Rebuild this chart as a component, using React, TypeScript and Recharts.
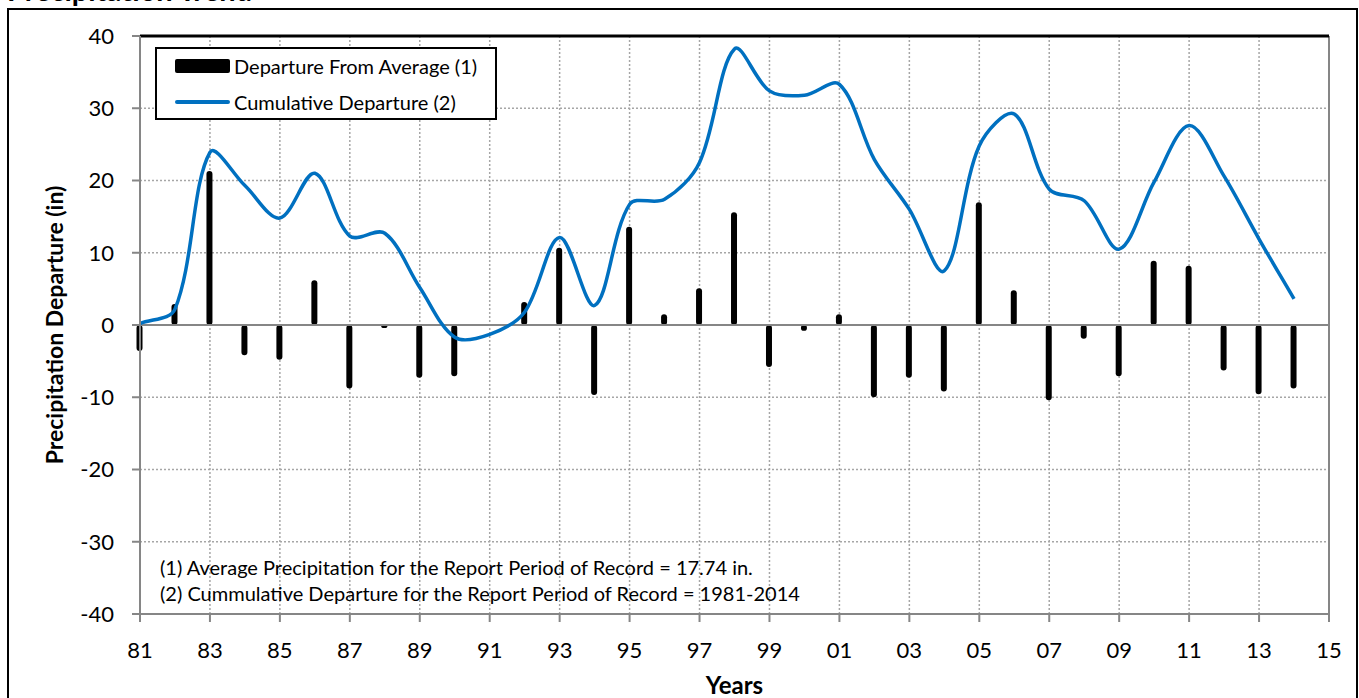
import React from "react";
import {
  ComposedChart,
  Bar,
  Line,
  XAxis,
  YAxis,
  CartesianGrid,
  ReferenceLine,
  Legend,
  Label,
} from "recharts";

// precipitation departure, report period 1981-2014
const years = [
  1981, 1982, 1983, 1984, 1985, 1986, 1987, 1988, 1989, 1990, 1991, 1992,
  1993, 1994, 1995, 1996, 1997, 1998, 1999, 2000, 2001, 2002, 2003, 2004,
  2005, 2006, 2007, 2008, 2009, 2010, 2011, 2012, 2013, 2014,
];
const departure = [
  -3.6, 2.9, 21.3, -4.2, -4.8, 6.2, -8.8, -0.4, -7.3, -7.1, 0, 3.2, 10.7,
  -9.7, 13.6, 1.5, 5.1, 15.6, -5.8, -0.8, 1.5, -10.0, -7.3, -9.2, 17.0, 4.8,
  -10.4, -1.9, -7.1, 8.9, 8.2, -6.3, -9.6, -8.8,
];
const cumulative = [
  0.2, 2.2, 23.9, 19.3, 14.8, 21.0, 12.3, 12.7, 5.2, -1.7, -1.3, 1.8, 12.1,
  2.7, 16.7, 17.4, 22.5, 38.2, 32.4, 31.8, 33.3, 22.9, 16.0, 7.5, 24.8, 29.2,
  18.8, 17.2, 10.5, 19.8, 27.6, 20.6, 11.9, 3.6,
];
const xTicks = [
  1981, 1983, 1985, 1987, 1989, 1991, 1993, 1995, 1997, 1999, 2001, 2003,
  2005, 2007, 2009, 2011, 2013, 2015,
];
const yTicks = [-40, -30, -20, -10, 0, 10, 20, 30, 40];

const data = years.map((year, i) => ({
  year,
  dep: departure[i],
  cum: cumulative[i],
}));

const FONT = "Lato, 'Open Sans', sans-serif";
const BLUE = "#0070C0";
const AXIS = "#868686";

// smoothed line like the spreadsheet's: bezier with chord-length scaled tangents
const smoothCurve = (context: any) => {
  let pts: number[][] = [];
  const dist = (a: number[], b: number[]) => Math.hypot(b[0] - a[0], b[1] - a[1]);
  return {
    areaStart() {},
    areaEnd() {},
    lineStart() {
      pts = [];
    },
    point(x: number, y: number) {
      pts.push([+x, +y]);
    },
    lineEnd() {
      if (!pts.length) return;
      context.moveTo(pts[0][0], pts[0][1]);
      for (let i = 0; i < pts.length - 1; i++) {
        const p0 = pts[i - 1] || pts[i];
        const p1 = pts[i];
        const p2 = pts[i + 1];
        const p3 = pts[i + 2] || p2;
        const d01 = dist(p0, p1);
        const d12 = dist(p1, p2);
        const d23 = dist(p2, p3);
        const k1 = d01 + d12 > 0 ? d12 / (d01 + d12) / 3 : 0;
        const k2 = d12 + d23 > 0 ? d12 / (d12 + d23) / 3 : 0;
        context.bezierCurveTo(
          p1[0] + (p2[0] - p0[0]) * k1,
          p1[1] + (p2[1] - p0[1]) * k1,
          p2[0] - (p3[0] - p1[0]) * k2,
          p2[1] - (p3[1] - p1[1]) * k2,
          p2[0],
          p2[1]
        );
      }
    },
  };
};

const LegendBox = () => (
  <div
    style={{
      width: 338,
      height: 69,
      border: "2px solid #000",
      background: "#fff",
      fontFamily: FONT,
      fontSize: 20,
      color: "#000",
      position: "relative",
    }}
  >
    <div style={{ position: "absolute", left: 18, top: 10, width: 55, height: 14, background: "#000", borderRadius: 2 }} />
    <div style={{ position: "absolute", left: 77, top: 4, lineHeight: "26px", whiteSpace: "nowrap" }}>
      Departure From Average (1)
    </div>
    <div style={{ position: "absolute", left: 18, top: 51, width: 55, height: 4, background: BLUE, borderRadius: 2 }} />
    <div style={{ position: "absolute", left: 77, top: 40, lineHeight: "26px", whiteSpace: "nowrap" }}>
      Cumulative Departure (2)
    </div>
  </div>
);

const fmtYear = (v: number) => String(v % 100).padStart(2, "0");

export default function App() {
  return (
    <div
      style={{
        position: "absolute",
        left: 0,
        top: 0,
        width: 1359,
        height: 698,
        overflow: "hidden",
        background: "#fff",
        fontFamily: FONT,
      }}
    >
      <div
        style={{
          position: "absolute",
          right: 1359 - 252,
          top: -27,
          fontSize: 29,
          lineHeight: "34px",
          fontWeight: 700,
          whiteSpace: "nowrap",
          color: "#000",
        }}
      >
        Precipitation Trend
      </div>
      <div
        style={{
          position: "absolute",
          left: 7,
          top: 8,
          width: 1347,
          height: 720,
          border: "2px solid #000",
        }}
      />
      <div style={{ position: "absolute", left: 0, top: 0 }}>
        <ComposedChart
          width={1359}
          height={698}
          data={data}
          margin={{ top: 36, right: 30, left: 0, bottom: 0 }}
          style={{ fontFamily: FONT }}
        >
          <CartesianGrid stroke="#A6A6A6" strokeDasharray="2 2" strokeWidth={1.5} />
          <XAxis
            dataKey="year"
            type="number"
            domain={[1981, 2015]}
            ticks={xTicks}
            interval={0}
            tickFormatter={fmtYear}
            height={84}
            stroke={AXIS}
            strokeWidth={2}
            tickSize={8}
            tickMargin={20}
            tick={{ fill: "#000", fontSize: 22 }}
          >
            <Label
              value="Years"
              position="insideBottom"
              offset={4}
              style={{ fontSize: 24, fontWeight: 700, fill: "#000" }}
            />
          </XAxis>
          <YAxis
            domain={[-40, 40]}
            ticks={yTicks}
            interval={0}
            width={140}
            stroke={AXIS}
            strokeWidth={2}
            tickSize={8}
            tickMargin={18}
            tick={{ fill: "#000", fontSize: 22 }}
          >
            <Label
              value="Precipitation Departure (in)"
              angle={-90}
              position="insideLeft"
              offset={55}
              style={{ fontSize: 23, fontWeight: 700, fill: "#000", textAnchor: "middle" }}
            />
          </YAxis>
          <ReferenceLine y={0} stroke={AXIS} strokeWidth={2} />
          <ReferenceLine x={2015} stroke={AXIS} strokeWidth={2} />
          <ReferenceLine y={40} stroke="#000" strokeWidth={3} />
          <Bar dataKey="dep" fill="#000" barSize={6} radius={3} isAnimationActive={false} />
          <Line
            dataKey="cum"
            type={smoothCurve as any}
            stroke={BLUE}
            strokeWidth={3.5}
            dot={false}
            activeDot={false}
            isAnimationActive={false}
          />
          <Legend
            layout="vertical"
            align="center"
            verticalAlign="middle"
            wrapperStyle={{ left: 155, top: 47, width: 342, height: 73 }}
            content={() => <LegendBox />}
          />
        </ComposedChart>
      </div>
      <div
        style={{
          position: "absolute",
          left: 160,
          top: 554,
          fontSize: 20,
          lineHeight: "26px",
          color: "#000",
          whiteSpace: "nowrap",
        }}
      >
        <div>(1) Average Precipitation for the Report Period of Record = 17.74 in.</div>
        <div>(2) Cummulative Departure for the Report Period of Record = 1981-2014</div>
      </div>
    </div>
  );
}
